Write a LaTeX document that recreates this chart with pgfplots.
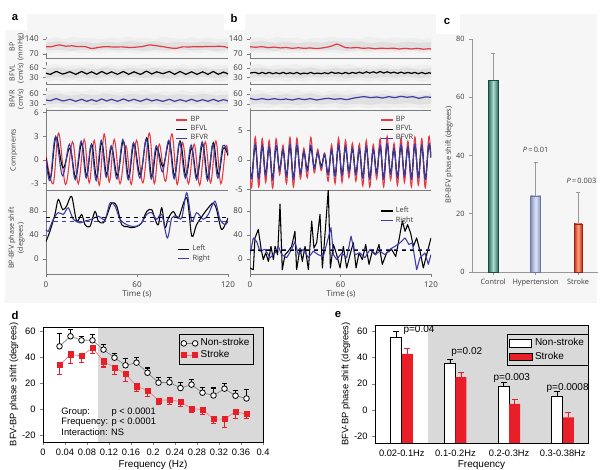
\documentclass[border=0pt]{standalone}
\usepackage{fontspec}
\setmainfont{Liberation Sans}
\newfontfamily\abcfont{Open Sans}
\usepackage{pgfplots}
\pgfplotsset{compat=1.18}
\usepackage{pgfplotstable}

\definecolor{abred}{RGB}{228,58,68}
\definecolor{abblue}{RGB}{62,60,165}
\definecolor{bgpanel}{RGB}{246,246,246}
\definecolor{shadereg}{RGB}{217,217,217}
\definecolor{dred}{RGB}{232,30,40}
\definecolor{ctealD}{RGB}{38,108,92}
\definecolor{ctealL}{RGB}{175,222,206}
\definecolor{chypD}{RGB}{135,148,198}
\definecolor{chypL}{RGB}{222,228,244}
\definecolor{cstrD}{RGB}{195,40,30}
\definecolor{cstrL}{RGB}{250,165,115}
\definecolor{axgray}{RGB}{125,125,125}
\definecolor{txgray}{RGB}{60,60,60}

\pgfplotstableread{
x y
0 141
6 148
12 139
18 150
24 143
30 147
36 137
42 146
48 141
54 150
60 142
66 147
72 139
78 150
84 144
90 140
96 148
102 141
108 147
114 138
120 145
120 77
114 73
108 81
102 75
96 79
90 72
84 78
78 74
72 82
66 76
60 71
54 79
48 75
42 81
36 74
30 78
24 72
18 80
12 75
6 79
0 74
}\bandBP
\pgfplotstableread{
x y
0 124
8 130
16 121
24 128
32 120
40 127
48 122
56 131
64 123
72 129
80 121
88 127
96 120
104 128
112 122
120 126
120 88
112 84
104 90
96 86
88 91
80 85
72 89
64 84
56 90
48 86
40 91
32 85
24 89
16 84
8 90
0 86
}\bandBPin
\pgfplotstableread{
x y
0 68
6 72
12 64
18 70
24 66
30 73
36 65
42 70
48 64
54 71
60 67
66 73
72 64
78 69
84 66
90 72
96 65
102 70
108 64
114 71
120 67
120 20
114 16
108 23
102 18
96 22
90 15
84 21
78 17
72 24
66 19
60 16
54 22
48 18
42 23
36 16
30 21
24 17
18 23
12 18
6 21
0 16
}\bandV
\pgfplotstableread{
x y
0 57
8 61
16 55
24 60
32 56
40 62
48 55
56 60
64 57
72 61
80 55
88 60
96 56
104 61
112 55
120 59
120 31
112 28
104 33
96 29
88 32
80 27
72 31
64 28
56 33
48 29
40 32
32 27
24 31
16 28
8 32
0 29
}\bandVin

\pgfplotstableread{
t v
0 104
3 103
6 108
9 112
13 106
17 108
21 104
26 104
30 95
35 101
40 104
45 102
50 103
55 100
60 102
64 105
68 112
72 109
77 104
82 98
86 96
90 103
94 102
98 104
102 103
106 105
110 104
114 106
118 103
120 98
}\bpA
\pgfplotstableread{
t v
0 44
3 40
6.6 49
11.2 41
15.8 48
19.6 40
23.5 49
26.8 41
30.1 48
33.4 40
36.7 49
40 41
43.3 48
47.1 40
51 49
54.5 40
58 48
62.2 40
66.4 50
69.7 41
73 48
77.1 42
81.3 49
84.8 40
88.4 49
92.2 40
96 48
99.6 40
103.3 48
106.8 40
110.3 49
113.6 40
116.9 47
120 41
}\flA
\pgfplotstableread{
t v
0 42
3 40
6.6 46
11.2 39
15.8 44
19.6 38
23.5 44
26.8 38
30.1 43
33.4 38
36.7 45
40 39
43.3 44
47.1 38
51 45
54.5 39
58 44
62.2 38
66.4 45
69.7 39
73 43
77.1 38
81.3 44
84.8 38
88.4 43
92.2 38
96 44
99.6 38
103.3 43
106.8 38
110.3 44
113.6 38
116.9 43
120 39
}\frA

\pgfplotstableread{
tl l tr r tb bp
0 0.3 0 0.0 0 0.6
3.0 -2.3 2.7 -2.6 4.7 -3.0
6.6 2.9 6.3 3.0 8.3 3.4
11.2 -1.0 10.9 -2.0 12.9 -3.1
15.8 1.5 15.5 2.0 17.5 2.3
19.6 -2.2 19.3 -2.5 21.3 -3.0
23.5 2.1 23.2 2.4 25.2 2.6
26.8 -2.0 26.5 -2.3 28.5 -2.9
30.1 2.0 29.8 1.9 31.8 2.5
33.4 -2.2 33.1 -2.6 35.1 -3.2
36.7 2.2 36.4 2.5 38.4 3.3
40.0 -1.8 39.7 -2.2 41.7 -2.8
43.3 1.6 43.0 1.8 45.0 2.6
47.1 -2.0 46.8 -2.4 48.8 -3.0
51.0 2.4 50.7 2.6 52.7 1.8
54.5 -2.2 54.2 -2.5 56.2 -3.1
58.0 2.0 57.7 2.2 59.7 2.5
62.2 -1.9 61.9 -2.3 63.9 -2.9
66.4 2.8 66.1 2.6 68.1 3.4
69.7 -2.1 69.4 -2.4 71.4 -3.0
73.0 1.5 72.7 1.8 74.7 2.0
77.1 -0.8 76.8 -1.5 78.8 -2.7
81.3 2.3 81.0 2.5 83.0 3.3
84.8 -2.0 84.5 -2.4 86.5 -3.1
88.4 2.4 88.1 2.2 90.1 2.2
92.2 -2.0 91.9 -2.3 93.9 -3.0
96.0 1.5 95.7 1.9 97.7 2.0
99.6 -2.2 99.3 -2.5 101.3 -3.2
103.3 2.0 103.0 2.3 105.0 2.3
106.8 -2.3 106.5 -2.6 108.5 -2.9
110.3 2.2 110.0 2.0 112.0 2.4
113.6 -1.9 113.3 -2.3 115.3 -3.0
116.9 1.5 116.6 1.8 118.6 1.8
120 0.6 120 0.8 120 0.5
}\compA

\pgfplotstableread{
t v
0 29
2.6 46
5.9 74
8.1 99
11 82
13.6 88
16.9 104
20.2 63
23.5 74
25.7 57
29 54
32.3 79
34.5 63
37.8 60
40 71
43.3 93
46.6 88
49.9 57
53.2 54
56.5 52
59.8 54
63.1 60
66.4 79
69.7 82
71.9 66
74.1 57
76.3 85
78.5 52
80.7 68
84 79
87.3 68
92.8 102
96.1 38
99.3 57
103.7 74
107 85
110.3 93
112.5 82
115.8 49
120 68
}\phLA
\pgfplotstableread{
t v
0 49
1.5 46
4.8 66
8.1 77
11.4 74
14.7 85
18 66
22.4 60
25.7 63
30.1 66
34.5 71
38.9 66
42.2 93
45.5 88
48.8 66
53.2 57
57.6 54
62 57
66.4 74
69.7 77
73 66
76.3 74
80 35
82.9 68
86.2 71
89.5 68
92.8 110
96.1 63
99.3 77
103.7 66
107 74
111.4 96
114.7 66
118 57
120 63
}\phRA

\pgfplotstableread{
t v
0 104
4 101
8 104
12 99
16 102
20 98
24 100
28 96
32 99
36 96
40 98
44 95
48 98
52 103
55 109
57.5 116
60 110
63 100
67 98
71 100
75 96
79 98
83 94
87 97
91 95
95 97
99 93
103 96
107 93
111 96
115 92
118 94
120 93
}\bpB
\pgfplotstableread{
t v
0 44
3.5 46
5.8 42
8.1 46
10.4 42
12.7 46
15 42
17.3 45
19.6 42
21.9 46
24.2 42
26.5 45
28.8 42
31.1 46
33.4 41
35.7 44
38 42
40.3 46
42.6 42
44.9 44
47.2 42
49.5 45
51.8 42
54.1 47
56.4 43
58.7 45
61 42
63.3 46
65.6 42
67.9 46
70.2 43
72.5 47
74.8 43
77.1 48
79.4 44
81.7 48
84 44
86.3 49
88.6 44
90.9 48
93.2 44
95.5 47
97.8 43
100.1 47
102.4 43
104.7 46
107 43
109.3 46
111.6 42
113.9 46
116.2 42
118.5 45
120 43
}\flB
\pgfplotstableread{
t v
0 47
4 43
8 46
12 43
16 46
20 43
24 45
28 42
32 46
36 43
40 46
44 42
48 45
52 47
56 44
60 46
64 43
68 47
72 50
76 52
80 49
84 51
88 48
92 52
96 49
100 53
104 50
108 52
112 47
116 51
120 50
}\frB

\pgfplotstableread{
t bp l r
0 -2.0 -1.2 -1.4
1.2 -4.5 -2.9 -3.2
3.5 3.9 2.4 2.7
5.8 -4.6 -3.0 -3.2
8.1 3.6 2.3 2.5
10.4 -3.8 -2.4 -2.7
12.7 3.3 2.1 2.3
15.0 -4.8 -3.1 -3.3
17.3 3.6 2.3 2.5
19.6 -2.5 -1.6 -1.8
21.9 2.5 1.7 1.8
24.2 -4.0 -2.6 -2.8
26.5 3.8 2.4 2.7
28.8 -4.6 -3.0 -3.2
31.1 3.7 2.4 2.6
33.4 -3.2 -2.2 -2.3
35.7 2.0 1.3 1.5
38.0 -3.0 -1.5 -1.9
40.3 3.8 2.0 2.5
42.6 -2.2 -1.2 -1.5
44.9 1.8 1.1 1.3
47.2 -1.8 -1.0 -1.3
49.5 1.2 0.8 1.0
51.8 -3.6 -2.3 -2.5
54.1 2.6 1.6 1.8
56.4 -4.0 -2.6 -2.8
58.7 3.7 2.4 2.6
61.0 -3.8 -2.5 -2.7
63.3 3.3 2.1 2.3
65.6 -3.0 -2.0 -2.1
67.9 2.8 1.8 2.0
70.2 -3.6 -2.3 -2.5
72.5 2.7 1.7 1.9
74.8 -4.4 -2.9 -3.1
77.1 3.3 2.1 2.3
79.4 -4.6 -3.0 -3.2
81.7 2.6 1.7 1.8
84.0 -3.2 -2.1 -2.3
86.3 3.6 2.3 2.5
88.6 -4.6 -3.0 -3.2
90.9 4.0 2.6 2.8
93.2 -3.4 -2.2 -2.4
95.5 2.8 1.8 2.0
97.8 -4.3 -2.8 -3.0
100.1 3.7 2.4 2.6
102.4 -3.8 -2.5 -2.7
104.7 3.2 2.1 2.3
107.0 -4.6 -3.0 -3.2
109.3 3.9 2.5 2.7
111.6 -4.3 -2.8 -3.0
113.9 3.6 2.3 2.5
116.2 -4.7 -3.1 -3.3
118.5 3.9 2.5 2.7
120 0.5 0.4 0.4
}\compB

\pgfplotstableread{
t v
0 -15
2.2 -18
3.3 35
5.5 49
7.3 18
8.8 -1
10.4 10
12.2 -4
13.9 21
15.5 -1
16.6 21
18.3 7
19.9 91
21.4 -18
23.2 7
25.4 13
27.6 21
29.8 46
30.9 -18
33.2 18
34.7 -4
36.5 21
38.7 -18
40.9 63
42.4 18
44.2 27
46.4 74
48 -15
50.2 57
51.9 116
53.3 -15
55.3 24
57.5 7
59.7 -15
61.9 21
64.1 -15
66.3 7
68.5 27
70.3 -15
72.3 10
74.5 -1
76.7 24
78.9 -9
81.1 13
83.3 7
85.5 24
87.7 -9
90.6 10
93.9 16
96.6 4
99 35
101 63
102.8 46
104.5 57
106.5 43
108.3 21
110.5 35
112.7 13
114.9 -15
117.1 7
120 35
}\phLB
\pgfplotstableread{
t v
0 7
2.2 35
4.4 29
6.6 13
9.9 16
13.3 2
16.6 10
18.8 21
21 7
24.3 2
27.6 16
29.8 29
32 7
35.4 16
38.7 2
42 13
45.3 7
48.6 4
51.9 35
53.7 52
55.3 7
57.5 -1
60.8 10
64.1 2
67 38
69.6 7
72.9 10
76.2 2
79.6 16
82.9 7
86.2 13
89.5 7
92.8 16
96.1 21
99.5 27
102.8 35
105.4 24
107.6 27
110.5 -18
112.7 2
116 10
118.2 -9
120 7
}\phRB

\pgfplotsset{
 abax/.style={scale only axis, width=136.5pt, xmin=0, xmax=120,
   axis x line=bottom, axis y line=left,
   axis line style={-, axgray, line width=0.5pt},
   tick style={axgray, line width=0.5pt}, tick align=outside, major tick length=2pt,
   xtick=\empty,
   tick label style={font=\abcfont\fontsize{6}{7}\selectfont, text=txgray},
   /pgf/number format/assume math mode=true, anchor=north west},
 ablegend/.style={legend style={at={(#1)}, anchor=north west, draw=none, fill=none,
   font=\abcfont\fontsize{5.5}{6}\selectfont, inner sep=0pt, row sep=-2.5pt, text=txgray},
   legend cell align=left,
   legend image code/.code={\draw[##1, line width=0.9pt] (0cm,0cm) -- (0.3cm,0cm);}},
}

\begin{document}
\begin{tikzpicture}[x=0.75pt,y=0.75pt]
\useasboundingbox (0,0) rectangle (604,470);
\fill[bgpanel] (5,167) rectangle (597,456);
\fill[white] (5,440) rectangle (27,465);
\fill[white] (224,440) rectangle (245,465);
\fill[white] (436,436) rectangle (460,465);

\coordinate (aBP) at (46,433);
\coordinate (aL) at (46,408);
\coordinate (aR) at (46,382);
\coordinate (aC) at (46,359);
\coordinate (aP) at (46,279);
\coordinate (bBP) at (250,433);
\coordinate (bL) at (250,408);
\coordinate (bR) at (250,382);
\coordinate (bC) at (250,359);
\coordinate (bP) at (250,279);
\coordinate (cNW) at (472,431);
\coordinate (dNW) at (43,143);
\coordinate (eNW) at (375,145);

% ---------- panel a ----------
\begin{axis}[abax, at={(aBP)}, height=15.75pt, ymin=51, ymax=149, ytick={70,140}]
\addplot[fill=gray!13, draw=none] table {\bandBP};
\addplot[fill=gray!24, draw=none] table {\bandBPin};
\addplot[abred, line width=0.9pt, smooth] table {\bpA};
\end{axis}
\begin{axis}[abax, at={(aL)}, height=16.5pt, ymin=9.5, ymax=79, ytick={30,60}]
\addplot[fill=gray!13, draw=none] table {\bandV};
\addplot[fill=gray!24, draw=none] table {\bandVin};
\addplot[black, line width=0.9pt, smooth] table {\flA};
\end{axis}
\begin{axis}[abax, at={(aR)}, height=16.5pt, ymin=12, ymax=78, ytick={30,60}]
\addplot[fill=gray!13, draw=none] table {\bandV};
\addplot[fill=gray!24, draw=none] table {\bandVin};
\addplot[abblue, line width=0.9pt, smooth] table {\frA};
\end{axis}
\begin{axis}[abax, at={(aC)}, height=59.25pt, ymin=-3.8, ymax=6.2, ytick={-3,0,3,6}, ablegend={0.71,0.97}]
\addplot[abred, line width=0.8pt, smooth, tension=0.6] table[x=tb,y=bp] {\compA};
\addlegendentry{BP}
\addplot[black, line width=0.8pt, smooth, tension=0.6] table[x=tl,y=l] {\compA};
\addlegendentry{BFVL}
\addplot[abblue, line width=0.8pt, smooth, tension=0.6] table[x=tr,y=r] {\compA};
\addlegendentry{BFVR}
\end{axis}
\begin{axis}[abax, at={(aP)}, height=62.25pt, ymin=-25, ymax=113, ytick={0,40,80}, xtick={0,60,120}, ablegend={0.72,0.38}]
\addplot[black, line width=0.8pt, smooth, tension=0.5] table {\phLA};
\addlegendentry{Left}
\addplot[abblue, line width=0.8pt, smooth, tension=0.5] table {\phRA};
\addlegendentry{Right}
\addplot[black, dashed, line width=0.8pt, forget plot] coordinates {(0,69) (120,69)};
\addplot[abblue, dashed, line width=0.8pt, forget plot] coordinates {(0,62) (120,62)};
\end{axis}

% ---------- panel b ----------
\begin{axis}[abax, width=135.75pt, at={(bBP)}, height=15.75pt, ymin=51, ymax=149, ytick={70,140}]
\addplot[fill=gray!13, draw=none] table {\bandBP};
\addplot[fill=gray!24, draw=none] table {\bandBPin};
\addplot[abred, line width=0.9pt, smooth] table {\bpB};
\end{axis}
\begin{axis}[abax, width=135.75pt, at={(bL)}, height=16.5pt, ymin=9.5, ymax=79, ytick={30,60}]
\addplot[fill=gray!13, draw=none] table {\bandV};
\addplot[fill=gray!24, draw=none] table {\bandVin};
\addplot[black, line width=0.9pt, smooth] table {\flB};
\end{axis}
\begin{axis}[abax, width=135.75pt, at={(bR)}, height=16.5pt, ymin=12, ymax=78, ytick={30,60}]
\addplot[fill=gray!13, draw=none] table {\bandV};
\addplot[fill=gray!24, draw=none] table {\bandVin};
\addplot[abblue, line width=0.9pt, smooth] table {\frB};
\end{axis}
\begin{axis}[abax, width=135.75pt, at={(bC)}, height=59.25pt, ymin=-5.1, ymax=8.3, ytick={-5,0,5}, ablegend={0.72,0.97}]
\addplot[abred, line width=0.8pt, smooth, tension=0.6] table[x=t,y=bp] {\compB};
\addlegendentry{BP}
\addplot[black, line width=0.8pt, smooth, tension=0.6] table[x=t,y=l] {\compB};
\addlegendentry{BFVL}
\addplot[abblue, line width=0.8pt, smooth, tension=0.6] table[x=t,y=r] {\compB};
\addlegendentry{BFVR}
\end{axis}
\begin{axis}[abax, width=135.75pt, at={(bP)}, height=62.25pt, ymin=-25, ymax=113, ytick={0,40,80}, xtick={0,60,120}, ablegend={0.72,0.84}]
\addplot[black, line width=0.8pt, line join=round] table {\phLB};
\addlegendentry{Left}
\addplot[abblue, line width=0.8pt, line join=round] table {\phRB};
\addlegendentry{Right}
\addplot[abblue, dashed, line width=0.8pt, forget plot] coordinates {(0,15) (120,15)};
\addplot[black, dashed, line width=0.8pt, forget plot] coordinates {(0,14) (120,14)};
\end{axis}

% a/b labels
\begin{scope}[every node/.style={font=\abcfont\fontsize{5.3}{6}\selectfont, text=txgray, inner sep=0pt}]
\node[rotate=90] at (12,423) {BP};
\node[rotate=90] at (21,423) {(mmHg)};
\node[rotate=90] at (12,397) {BFVL};
\node[rotate=90] at (21,397) {(cm/s)};
\node[rotate=90] at (12,371) {BFVR};
\node[rotate=90] at (21,371) {(cm/s)};
\node[rotate=90] at (14,320) {Components};
\node[rotate=90] at (12,232) {BP-BFV phase shift};
\node[rotate=90] at (21,232) {(degrees)};
\node[font=\abcfont\fontsize{6}{7}\selectfont] at (137,176) {Time (s)};
\node[font=\abcfont\fontsize{6}{7}\selectfont] at (341,176) {Time (s)};
\node[font=\abcfont\fontsize{5.5}{6}\selectfont] at (449,315) [rotate=90] {BP-BFV phase shift (degrees)};
\end{scope}
\node[font=\bfseries\fontsize{8.5}{9}\selectfont] at (15,452) {a};
\node[font=\bfseries\fontsize{8.5}{9}\selectfont] at (234,452) {b};
\node[font=\bfseries\fontsize{8.5}{9}\selectfont] at (447,448) {c};
\node[font=\bfseries\fontsize{8.5}{9}\selectfont] at (15,155) {d};
\node[font=\bfseries\fontsize{8.5}{9}\selectfont] at (338,155) {e};

% ---------- panel c ----------
\begin{axis}[at={(cNW)}, anchor=north west, scale only axis, width=94.5pt, height=174.75pt,
  xmin=-0.5, xmax=2.47, ymin=0, ymax=80, axis x line=bottom, axis y line=left,
  axis line style={-, axgray!80, line width=0.5pt}, tick style={axgray!80, line width=0.5pt},
  tick align=outside, major tick length=2pt,
  xtick={0,1,2}, xticklabels={Control,Hypertension,Stroke}, ytick={0,20,40,60,80},
  tick label style={font=\abcfont\fontsize{5.5}{6}\selectfont, text=txgray},
  /pgf/number format/assume math mode=true, clip=false]
\addplot[ybar, bar width=7.5pt, draw=ctealD!70!black, line width=0.3pt, left color=ctealD, right color=ctealD, middle color=ctealL,
  error bars/.cd, y dir=plus, y explicit, error bar style={gray!80, line width=0.4pt}, error mark options={rotate=90, gray!80, mark size=1.5pt, line width=0.4pt}]
  coordinates {(0,65.9) +- (0,9.3)};
\addplot[ybar, bar width=7.5pt, draw=chypD!80!black, line width=0.3pt, left color=chypD, right color=chypD, middle color=chypL,
  error bars/.cd, y dir=plus, y explicit, error bar style={gray!80, line width=0.4pt}, error mark options={rotate=90, gray!80, mark size=1.5pt, line width=0.4pt}]
  coordinates {(1,26.1) +- (0,11.7)};
\addplot[ybar, bar width=6pt, draw=cstrD!80!black, line width=0.3pt, left color=cstrD, right color=cstrD, middle color=cstrL,
  error bars/.cd, y dir=plus, y explicit, error bar style={gray!80, line width=0.4pt}, error mark options={rotate=90, gray!80, mark size=1.5pt, line width=0.4pt}]
  coordinates {(2,16.5) +- (0,10.9)};
\node[font=\abcfont\fontsize{5.5}{6}\selectfont, text=txgray] at (axis cs:1,41.9) {\textit{P}\,=\,0.01};
\node[font=\abcfont\fontsize{5.5}{6}\selectfont, text=txgray] at (axis cs:2.08,31.2) {\textit{P}\,=\,0.003};
\end{axis}

% ---------- panel d ----------
\begin{axis}[at={(dNW)}, anchor=north west, scale only axis, width=165pt, height=86.25pt,
  xmin=0, xmax=0.4, ymin=-25, ymax=63, axis on top,
  xtick={0,0.04,0.08,0.12,0.16,0.2,0.24,0.28,0.32,0.36,0.4},
  xticklabels={0,0.04,0.08,0.12,0.16,0.2,0.24,0.28,0.32,0.36,0.4},
  ytick={-20,0,20,40,60}, xtick pos=left, ytick pos=left,
  tick align=outside, major tick length=2pt,
  tick label style={font=\fontsize{7}{8}\selectfont},
  /pgf/number format/assume math mode=true,
  xlabel={Frequency (Hz)}, ylabel={BFV-BP phase shift (degrees)},
  xlabel style={font=\fontsize{7.5}{8}\selectfont, yshift=4pt},
  ylabel style={font=\fontsize{7}{8}\selectfont, yshift=-4pt},
  legend style={at={(0.62,0.935)}, anchor=north west, draw=black, fill=none,
    font=\fontsize{7.5}{8}\selectfont, inner sep=1pt, row sep=-2pt},
  legend cell align=left,
  legend image code/.code={\draw[mark repeat=1,#1] plot coordinates {(0cm,0cm) (0.3cm,0cm)};}]
\fill[shadereg] (axis cs:0.1,-25) rectangle (axis cs:0.4,63);
\addplot[gray, line width=0.5pt, mark=*, mark size=2.1pt, mark options={draw=black, fill=white, line width=0.6pt},
  error bars/.cd, y dir=plus, y explicit, error bar style={black, line width=0.8pt}, error mark options={rotate=90, black, mark size=2.2pt, line width=0.8pt}]
  coordinates {(0.03,48.2) +- (0,9.8) (0.05,55.9) +- (0,5.1) (0.07,52.8) +- (0,3.2) (0.09,52.8) +- (0,4.2)
  (0.11,45.7) +- (0,3.8) (0.13,39.5) +- (0,3.5) (0.15,33.7) +- (0,5.1) (0.17,35.7) +- (0,4.3)
  (0.19,28.0) +- (0,3.6) (0.21,20.4) +- (0,3.8) (0.23,20.6) +- (0,3.9) (0.25,16.3) +- (0,4.1)
  (0.27,18.9) +- (0,3.8) (0.29,12.7) +- (0,4.3) (0.31,10.6) +- (0,5.7) (0.33,15.8) +- (0,3.8)
  (0.35,10.4) +- (0,4.1) (0.37,8.3) +- (0,6.9)};
\addlegendentry{Non-stroke}
\addplot[dred!60, line width=0.5pt, mark=square*, mark size=1.9pt, mark options={draw=dred, fill=dred},
  error bars/.cd, y dir=minus, y explicit, error bar style={dred, line width=0.8pt}, error mark options={rotate=90, dred, mark size=2.2pt, line width=0.8pt}]
  coordinates {(0.03,33.7) +- (0,7.2) (0.05,42.1) +- (0,7.1) (0.07,40.8) +- (0,5.1) (0.09,47.0) +- (0,4.4)
  (0.11,36.7) +- (0,4.3) (0.13,31.9) +- (0,5.4) (0.15,27.3) +- (0,6.3) (0.17,17.6) +- (0,3.9)
  (0.19,14.5) +- (0,4.6) (0.21,6.8) +- (0,3.3) (0.23,7.3) +- (0,3.8) (0.25,6.0) +- (0,3.5)
  (0.27,0.4) +- (0,3.1) (0.29,-0.1) +- (0,3.6) (0.31,-7.5) +- (0,3.5) (0.33,-7.5) +- (0,6.2)
  (0.35,-1.9) +- (0,4.9) (0.37,-3.7) +- (0,3.6)};
\addlegendentry{Stroke}
\node[anchor=west, font=\fontsize{7}{8}\selectfont] at (axis cs:0.025,-2.3) {Group:};
\node[anchor=west, font=\fontsize{7}{8}\selectfont] at (axis cs:0.116,-2.3) {p < 0.0001};
\node[anchor=west, font=\fontsize{7}{8}\selectfont] at (axis cs:0.025,-10) {Frequency: p < 0.0001};
\node[anchor=west, font=\fontsize{7}{8}\selectfont] at (axis cs:0.025,-17.7) {Interaction: NS};
\end{axis}

% ---------- panel e ----------
\begin{axis}[at={(eNW)}, anchor=north west, scale only axis, width=159.75pt, height=88.5pt,
  xmin=-0.5, xmax=3.47, ymin=0, ymax=89.6, axis on top,
  ybar=0pt, bar width=8.25pt,
  xtick={0,1,2,3}, xticklabels={0.02-0.1Hz,0.1-0.2Hz,0.2-0.3Hz,0.3-0.38Hz},
  xtick style={draw=none},
  ytick={5,25,45,65,85}, yticklabels={-20,0,20,40,60}, ytick pos=left,
  tick align=outside, major tick length=2pt,
  tick label style={font=\fontsize{7}{8}\selectfont},
  xlabel={Frequency}, ylabel={BFV-BP phase shift (degrees)},
  xlabel style={font=\fontsize{7.5}{8}\selectfont, yshift=4pt},
  ylabel style={font=\fontsize{7}{8}\selectfont, yshift=-4pt},
  legend style={at={(0.62,0.92)}, anchor=north west, draw=black, fill=none,
    font=\fontsize{7.5}{8}\selectfont, inner sep=1pt, row sep=-1pt},
  legend cell align=left]
\fill[shadereg] (axis cs:0.48,0) rectangle (axis cs:3.47,89.6);
\addplot[area legend, draw=black, line width=0.7pt, fill=white,
  y filter/.expression={y+25},
  error bars/.cd, y dir=plus, y explicit, error bar style={black, line width=0.7pt}, error mark options={rotate=90, black, mark size=2.2pt, line width=0.7pt}]
  coordinates {(0,54.9) +- (0,4.8) (1,35.1) +- (0,3.3) (2,17.9) +- (0,2.8) (3,10.5) +- (0,3.3)};
\addlegendentry{Non-stroke}
\addplot[area legend, draw=none, fill=dred,
  y filter/.expression={y+25},
  error bars/.cd, y dir=plus, y explicit, error bar style={dred, line width=0.7pt}, error mark options={rotate=90, dred, mark size=2.2pt, line width=0.7pt}]
  coordinates {(0,42.7) +- (0,4.3) (1,25.0) +- (0,3.3) (2,4.7) +- (0,3.0) (3,-5.5) +- (0,3.3)};
\addlegendentry{Stroke}
\node[font=\fontsize{7.5}{8}\selectfont] at (axis cs:0.32,85.8) {p=0.04};
\node[font=\fontsize{7.5}{8}\selectfont] at (axis cs:1.21,69) {p=0.02};
\node[font=\fontsize{7.5}{8}\selectfont] at (axis cs:2.05,49.2) {p=0.003};
\node[font=\fontsize{7.5}{8}\selectfont] at (axis cs:3.09,41.6) {p=0.0008};
\end{axis}
\end{tikzpicture}
\end{document}
